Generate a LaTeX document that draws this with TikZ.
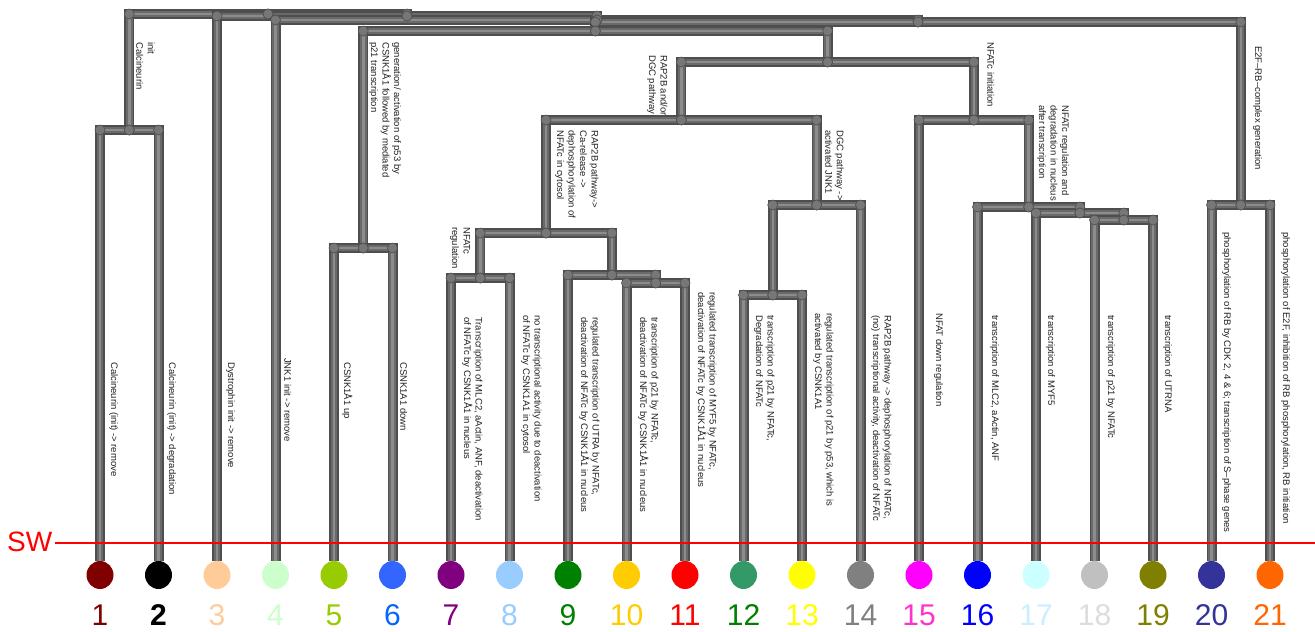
\documentclass[tikz,border=0pt]{standalone}
\usepackage{fontspec}
\setmainfont{Liberation Sans}
\usetikzlibrary{shapes.geometric}
\definecolor{tubeA}{HTML}{4E4E4E}
\definecolor{tubeB}{HTML}{6A6A6A}
\definecolor{tubeC}{HTML}{8C8C8C}
\definecolor{knobc}{HTML}{777777}
\definecolor{labc}{HTML}{222222}
\definecolor{swred}{HTML}{FF0000}
\definecolor{ca}{HTML}{800000}\definecolor{cb}{HTML}{000000}\definecolor{cc}{HTML}{FFCC99}
\definecolor{cd}{HTML}{CCFFCC}\definecolor{ce}{HTML}{99CC00}\definecolor{cf}{HTML}{3366FF}
\definecolor{cg}{HTML}{800080}\definecolor{ch}{HTML}{99CCFF}\definecolor{ci}{HTML}{008000}
\definecolor{cj}{HTML}{FFCC00}\definecolor{ck}{HTML}{FF0000}\definecolor{cl}{HTML}{339966}
\definecolor{cm}{HTML}{FFFF00}\definecolor{cn}{HTML}{808080}\definecolor{co}{HTML}{FF00FF}
\definecolor{cp}{HTML}{0000FF}\definecolor{cq}{HTML}{CCFFFF}\definecolor{cr}{HTML}{C0C0C0}
\definecolor{cs}{HTML}{808000}\definecolor{ct}{HTML}{333399}\definecolor{cu}{HTML}{FF6600}
\definecolor{kf}{HTML}{0066FF}\definecolor{kl}{HTML}{008000}\definecolor{ko}{HTML}{FF33CC}
\definecolor{kq}{HTML}{CCEEFF}\definecolor{kr}{HTML}{DDDDDD}
\begin{document}
\begin{tikzpicture}[x=1pt,y=-1pt,
  tube/.style={draw=tubeA, line width=10pt,
    postaction={draw=tubeB, line width=6.5pt},
    postaction={draw=tubeC, line width=2.5pt}},
  knob/.style={fill=knobc, draw=tubeA, line width=0.6pt},
  leaf/.style={ellipse, minimum width=27pt, minimum height=28pt, inner sep=0pt, draw=none},
  num/.style={font=\fontsize{30}{30}\selectfont, inner sep=0pt},
  lab/.style={rotate=-90, anchor=south west, align=left, inner sep=0pt, text=labc,
    font=\fontsize{9.5}{11.5}\selectfont}]
\useasboundingbox (0,0) rectangle (1315,632);
\fill[white] (0,0) rectangle (1315,632);
% internal nodes
\coordinate (root) at (268,14);
\coordinate (P3) at (407,16);
\coordinate (P2) at (597,20);
\coordinate (P1) at (918,22);
\coordinate (nQ) at (595.4,31);
\coordinate (n12) at (129.25,130);
\coordinate (n56) at (363.25,248);
\coordinate (n719) at (827.6,62);
\coordinate (n714) at (681.3,120);
\coordinate (n1519) at (973.85,120);
\coordinate (n711) at (546,233);
\coordinate (n78) at (480.25,278);
\coordinate (n9) at (611.9,275);
\coordinate (n1011) at (655.75,283);
\coordinate (n1214) at (816.6,205);
\coordinate (n1213) at (772.75,295);
\coordinate (n16) at (1028.7,207);
\coordinate (n17) at (1079.9,213);
\coordinate (n1819) at (1123.75,220);
\coordinate (n2021) at (1240.75,205);
% leaves
\node[leaf, fill=ca] (l1) at (100,575) {};
\node[leaf, fill=cb] (l2) at (158.5,575) {};
\node[leaf, fill=cc] (l3) at (217,575) {};
\node[leaf, fill=cd] (l4) at (275.5,575) {};
\node[leaf, fill=ce] (l5) at (334,575) {};
\node[leaf, fill=cf] (l6) at (392.5,575) {};
\node[leaf, fill=cg] (l7) at (451,575) {};
\node[leaf, fill=ch] (l8) at (509.5,575) {};
\node[leaf, fill=ci] (l9) at (568,575) {};
\node[leaf, fill=cj] (l10) at (626.5,575) {};
\node[leaf, fill=ck] (l11) at (685,575) {};
\node[leaf, fill=cl] (l12) at (743.5,575) {};
\node[leaf, fill=cm] (l13) at (802,575) {};
\node[leaf, fill=cn] (l14) at (860.5,575) {};
\node[leaf, fill=co] (l15) at (919,575) {};
\node[leaf, fill=cp] (l16) at (977.5,575) {};
\node[leaf, fill=cq] (l17) at (1036,575) {};
\node[leaf, fill=cr] (l18) at (1094.5,575) {};
\node[leaf, fill=cs] (l19) at (1153,575) {};
\node[leaf, fill=ct] (l20) at (1211.5,575) {};
\node[leaf, fill=cu] (l21) at (1270,575) {};
% numbers
\node[num, text=ca] (k1) at (100,615) {1};
\node[num, text=cb] (k2) at (158.5,615) {\bfseries 2};
\node[num, text=cc] (k3) at (217,615) {3};
\node[num, text=cd] (k4) at (275.5,615) {4};
\node[num, text=ce] (k5) at (334,615) {5};
\node[num, text=kf] (k6) at (392.5,615) {6};
\node[num, text=cg] (k7) at (451,615) {7};
\node[num, text=ch] (k8) at (509.5,615) {8};
\node[num, text=ci] (k9) at (568,615) {9};
\node[num, text=cj] (k10) at (626.5,615) {10};
\node[num, text=ck] (k11) at (685,615) {11};
\node[num, text=kl] (k12) at (743.5,615) {12};
\node[num, text=cm] (k13) at (802,615) {13};
\node[num, text=cn] (k14) at (860.5,615) {14};
\node[num, text=ko] (k15) at (919,615) {15};
\node[num, text=cp] (k16) at (977.5,615) {16};
\node[num, text=kq] (k17) at (1036,615) {17};
\node[num, text=kr] (k18) at (1094.5,615) {18};
\node[num, text=cs] (k19) at (1153,615) {19};
\node[num, text=ct] (k20) at (1211.5,615) {20};
\node[num, text=cu] (k21) at (1270,615) {21};
% tubes
\foreach \p/\c in {root/n12, root/P3, P3/l3.north, P3/P2, P2/l4.north, P2/P1, P1/nQ, P1/n2021,
  nQ/n56, nQ/n719, n56/l5.north, n56/l6.north, n719/n714, n719/n1519, n714/n711, n714/n1214,
  n711/n78, n711/n9, n78/l7.north, n78/l8.north, n9/l9.north, n9/n1011, n1011/l10.north, n1011/l11.north,
  n1214/n1213, n1214/l14.north, n1213/l12.north, n1213/l13.north, n1519/l15.north, n1519/n16,
  n16/l16.north, n16/n17, n17/l17.north, n17/n1819, n1819/l18.north, n1819/l19.north,
  n2021/l20.north, n2021/l21.north, n12/l1.north, n12/l2.north}
  {\draw[tube] (\p) -| (\c);}
\foreach \p/\c in {root/n12, root/P3, P3/l3.north, P3/P2, P2/l4.north, P2/P1, P1/nQ, P1/n2021,
  nQ/n56, nQ/n719, n56/l5.north, n56/l6.north, n719/n714, n719/n1519, n714/n711, n714/n1214,
  n711/n78, n711/n9, n78/l7.north, n78/l8.north, n9/l9.north, n9/n1011, n1011/l10.north, n1011/l11.north,
  n1214/n1213, n1214/l14.north, n1213/l12.north, n1213/l13.north, n1519/l15.north, n1519/n16,
  n16/l16.north, n16/n17, n17/l17.north, n17/n1819, n1819/l18.north, n1819/l19.north,
  n2021/l20.north, n2021/l21.north, n12/l1.north, n12/l2.north}
  {\fill[knob] (\p -| \c) circle (5); \fill[knob] (\p) circle (5);}
% SW line
\coordinate (swl) at (55,543);
\coordinate (swr) at (1315,543);
\draw[swred, line width=1.6pt] (swl) -- (swr);
\node[text=swred, font=\fontsize{28}{28}\selectfont, anchor=west, inner sep=0pt] (sw) at (7,542) {SW};
% internal labels
\node[lab] (ta) at (136,42) {init\\Calcineurin};
\node[lab] (tb) at (369,42) {generation/ activation of p53 by\\CSNK1Å1 followed by mediated\\p21 transcription};
\node[lab] (tc) at (647,55) {RAP2B and/or\\DGC pathway};
\node[lab] (td) at (555,130) {RAP2B pathway->\\Ca-release ->\\dephosphorylation of\\NFATc in cytosol};
\node[lab] (te) at (450,227) {NFATc\\regulation};
\node[lab] (tf) at (825,130) {DGC pathway ->\\activated JNK1};
\node[lab] (tg) at (987,42) {NFATc initiation};
\node[lab] (th) at (1037,105) {NFATc regulation and\\degradation in nucleus\\after transcription};
\node[lab] (ti) at (1253,46) {E2F--RB--complex generation};
% leaf labels
\node[lab] (m1) at (109,362) {Calcineurin (init) -> remove};
\node[lab] (m2) at (167,362) {Calcineurin (init) -> degradation};
\node[lab] (m3) at (226,362) {Dystrophin init -> remove};
\node[lab] (m4) at (284,358) {JNK1 init -> remove};
\node[lab] (m5) at (342,362) {CSNK1Å1 up};
\node[lab] (m6) at (400,362) {CSNK1A1 down};
\node[lab] (m7) at (462,317) {Transcription of MLC2, aActin, ANF, deactivation\\of NFATc by CSNK1Å1 in nucleus};
\node[lab] (m8) at (521,315) {no transcriptional activity due to deactivation\\of NFATc by CSNK1A1 in cytosol};
\node[lab] (m9) at (579,317) {regulated transcription of UTRA by NFATc,\\deactivation of NFATc by CSNK1Å1 in nucleus};
\node[lab] (m10) at (638,317) {transcription of p21 by NFATc,\\deactivation of NFATc by CSNK1Å1 in nucleus};
\node[lab] (m11) at (696,292) {regulated transcription of MYF5 by NFATc,\\deactivation of NFATc by CSNK1Å1 in nucleus};
\node[lab] (m12) at (754,315) {transcription of p21 by NFATc,\\Degradation of NFATc};
\node[lab] (m13) at (813,313) {regulated transcription of p21 by p53, which is\\activated by CSNK1A1};
\node[lab] (m14) at (871,315) {RAP2B pathway -> dephosphorylation of NFATc,\\(no) transcriptional activity, deactivation of NFATc};
\node[lab] (m15) at (934,313) {NFAT down regulation};
\node[lab] (m16) at (990,315) {transcription of MLC2, aActin, ANF};
\node[lab] (m17) at (1046,315) {transcription of MYF5};
\node[lab] (m18) at (1106,315) {transcription of p21 by NFATc};
\node[lab] (m19) at (1163,315) {transcription of UTRNA};
\node[lab] (m20) at (1222,232) {phosphorylation of RB by CDK 2, 4 \& 6; transcription of S--phase genes};
\node[lab] (m21) at (1281,232) {phosphorylation of E2F, inhibition of RB phosphorylation, RB initiation};
\end{tikzpicture}
\end{document}
